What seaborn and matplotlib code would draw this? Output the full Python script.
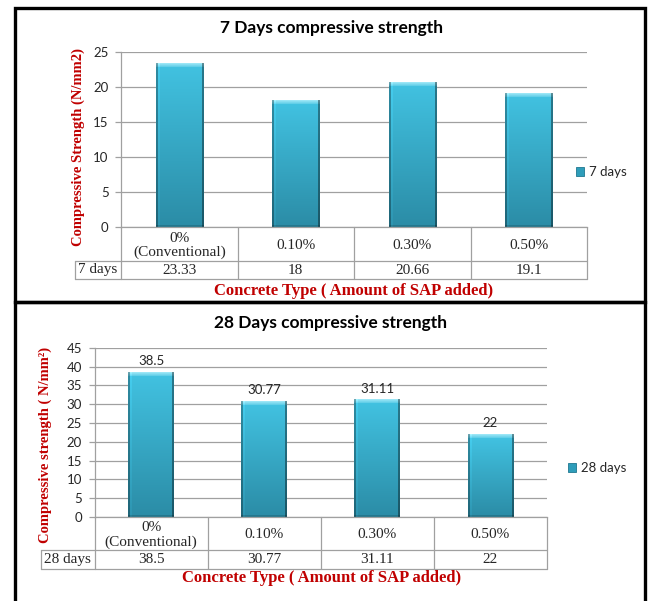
import numpy as np
import pandas as pd
import matplotlib
matplotlib.use("Agg")
import matplotlib.pyplot as plt
import seaborn as sns
from matplotlib.patches import Rectangle, Patch
from matplotlib.lines import Line2D
from matplotlib.transforms import blended_transform_factory
from matplotlib.colors import to_rgb

# ---- data -------------------------------------------------------------
categories = ["0%\n(Conventional)", "0.10%", "0.30%", "0.50%"]
strength_7 = [23.33, 18, 20.66, 19.1]
strength_28 = [38.5, 30.77, 31.11, 22]
series_7 = "7 days"
series_28 = "28 days"
title_7 = "7 Days compressive strength"
title_28 = "28 Days compressive strength"
ylabel_7 = "Compressive Strength (N/mm2)"
ylabel_28 = "Compressive strength ( N/mm\u00b2)"
xlabel = "Concrete Type ( Amount of SAP added)"
yticks_7 = list(range(0, 26, 5))
yticks_28 = list(range(0, 46, 5))

# ---- style ------------------------------------------------------------
sns.set_theme(style="white")
plt.rcParams["font.family"] = ["Lato", "DejaVu Sans"]

W, H = 649, 601
fig = plt.figure(figsize=(W / 100, H / 100), dpi=100)
fig.patch.set_facecolor("white")

SANS = ["Lato", "DejaVu Sans"]
SERIF = ["Liberation Serif", "DejaVu Serif"]
RED = "#C00000"
GRID = "#A0A0A0"
TXT = "#262626"


def fx(px):
    return px / W


def fy(py):
    return 1 - py / H


def lerp(c1, c2, t):
    a, b = np.array(to_rgb(c1)), np.array(to_rgb(c2))
    return a + (b - a) * t


def shade_bars(ax):
    """Paint an Excel-like bevelled gradient over each bar."""
    for p in list(ax.patches):
        x0, w, h = p.get_x(), p.get_width(), p.get_height()
        (px0, py0), (px1, py1) = ax.transData.transform([(x0, 0), (x0 + w, h)])
        rows, cols = max(int(round(py1 - py0)), 2), max(int(round(px1 - px0)), 2)
        img = np.zeros((rows, cols, 3))
        for r in range(rows):
            if r < 4:
                c = lerp("#9BE6F6", "#52C8E4", r / 4)
            else:
                c = lerp("#41C1E0", "#2B8CA6", (r - 4) / max(rows - 5, 1))
            img[r, :, :] = c
        img[:, :2, :] *= 0.72
        img[:, -2:, :] *= 0.62
        img[:, 2:4, :] = np.clip(img[:, 2:4, :] * 1.06, 0, 1)
        img[-2:, :, :] *= 0.85
        ax.imshow(img, extent=(x0, x0 + w, 0, h), aspect="auto",
                  interpolation="nearest", zorder=p.get_zorder() + 0.1)


def panel(values, series, title, ylabel, yticks, box, title_y, ylabel_pos,
          xlabel_pos, table_rows, header_left, legend_pos, show_labels):
    left, right, top, bottom = box
    ax = fig.add_axes([fx(left), fy(bottom), (right - left) / W, (bottom - top) / H])
    df = pd.DataFrame({"category": categories, "value": values})
    sns.barplot(data=df, x="category", y="value", color="#38B4D4",
                width=0.405, ax=ax, zorder=2, edgecolor="none")
    ax.set_xlim(-0.5, len(categories) - 0.5)
    ax.set_ylim(yticks[0], yticks[-1])
    ax.set_yticks(yticks)
    ax.set_xticks([])
    ax.set_xlabel("")
    ax.set_ylabel("")
    ax.grid(axis="y", color=GRID, linewidth=0.9, zorder=0)
    ax.set_axisbelow(True)
    for s in ("top", "right"):
        ax.spines[s].set_visible(False)
    for s in ("left", "bottom"):
        ax.spines[s].set_color(GRID)
        ax.spines[s].set_linewidth(0.9)
    ax.tick_params(axis="y", direction="out", length=4, width=0.9, color=GRID,
                   pad=5, labelsize=9.5, labelcolor=TXT, left=True)
    for t in ax.get_yticklabels():
        t.set_family(SANS)
    shade_bars(ax)
    ax.set_xlim(-0.5, len(categories) - 0.5)
    ax.set_ylim(yticks[0], yticks[-1])

    if show_labels:
        ax.bar_label(ax.containers[0], fmt="%g", padding=3.5, fontsize=9.5,
                     color=TXT, family=SANS)

    # data table beneath the plot
    r_top, r_mid, r_bot = table_rows
    tb = blended_transform_factory(ax.transData, fig.transFigure)
    for xv in np.arange(0.5, len(categories), 1.0):
        ax.add_line(Line2D([xv, xv], [fy(r_top), fy(r_bot)], transform=tb,
                           color=GRID, lw=0.9, clip_on=False))
    ax.add_line(Line2D([-0.5, -0.5], [fy(r_top), fy(r_bot)], transform=tb,
                       color=GRID, lw=0.9, clip_on=False))
    for yy in (r_mid, r_bot):
        fig.add_artist(Line2D([fx(header_left), fx(right)], [fy(yy), fy(yy)],
                              color=GRID, lw=0.9))
    fig.add_artist(Line2D([fx(header_left), fx(header_left)], [fy(r_mid), fy(r_bot)],
                          color=GRID, lw=0.9))
    for i, (cat, v) in enumerate(zip(categories, values)):
        ax.text(i, fy((r_top + r_mid) / 2 + 1.5), cat, transform=tb, ha="center",
                va="center", fontsize=11, family=SERIF, color=TXT,
                linespacing=1.1)
        ax.text(i, fy((r_mid + r_bot) / 2), f"{v:g}", transform=tb, ha="center",
                va="center", fontsize=11, family=SERIF, color=TXT)
    fig.text(fx((header_left + left) / 2), fy((r_mid + r_bot) / 2), series,
             ha="center", va="center", fontsize=11, family=SERIF, color=TXT)

    # titles and axis labels
    fig.text(fx(331), fy(title_y), title, ha="center", va="center",
             fontsize=12.5, fontweight="bold", family=SANS, color="black")
    fig.text(fx(ylabel_pos[0]), fy(ylabel_pos[1]), ylabel, rotation=90,
             ha="center", va="center", fontsize=10.5, fontweight="bold",
             family=SERIF, color=RED)
    fig.text(fx(xlabel_pos[0]), fy(xlabel_pos[1]), xlabel, ha="center",
             va="center", fontsize=12, fontweight="bold", family=SERIF, color=RED)

    handle = Patch(facecolor="#2E9DBA", edgecolor="#1F7890", linewidth=0.6)
    fig.legend(handles=[handle], labels=[series], loc="center left",
               bbox_to_anchor=(fx(legend_pos[0]), fy(legend_pos[1])),
               frameon=False, handlelength=0.6, handleheight=0.6,
               handletextpad=0.35, borderpad=0, borderaxespad=0,
               prop={"family": SANS, "size": 9.5})
    return ax


panel(strength_7, series_7, title_7, ylabel_7, yticks_7,
      box=(121, 587, 51.7, 227), title_y=28, ylabel_pos=(78, 147),
      xlabel_pos=(354, 291), table_rows=(227, 261, 279), header_left=75,
      legend_pos=(576, 172), show_labels=False)

panel(strength_28, series_28, title_28, ylabel_28, yticks_28,
      box=(94.5, 547, 347.7, 517), title_y=323, ylabel_pos=(45, 445),
      xlabel_pos=(322, 578), table_rows=(517, 550, 568.5), header_left=40.5,
      legend_pos=(568, 468), show_labels=True)

# black frames around both panels
fig.add_artist(Rectangle((fx(15), fy(302)), (645 - 15) / W, (302 - 8) / H,
                         transform=fig.transFigure, fill=False,
                         edgecolor="black", linewidth=2.4))
fig.add_artist(Rectangle((fx(15), fy(615)), (645 - 15) / W, (615 - 302) / H,
                         transform=fig.transFigure, fill=False,
                         edgecolor="black", linewidth=2.4))

fig.savefig("out.png", dpi=100, facecolor="white")
